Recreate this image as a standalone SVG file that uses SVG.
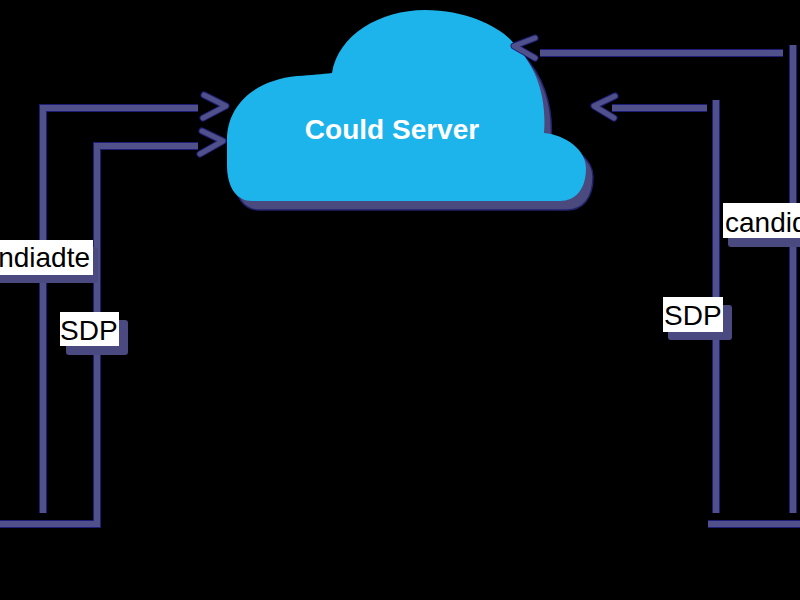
<svg xmlns="http://www.w3.org/2000/svg" width="800" height="600" viewBox="0 0 800 600">
  <style>
    .edge { fill: none; stroke: #1e1e78; stroke-width: 8; stroke-linejoin: miter; }
    .core { fill: none; stroke: #50508a; stroke-width: 6; stroke-linejoin: miter; }
    .headE { fill: none; stroke: #1e1e78; stroke-width: 7; stroke-linecap: round; stroke-linejoin: round; }
    .headC { fill: none; stroke: #50508a; stroke-width: 5; stroke-linecap: round; stroke-linejoin: round; }
    .lbl { font-family: "Liberation Sans", Arial, Helvetica, sans-serif; font-size: 28px; fill: #000000; }
    .box { fill: #ffffff; }
    .shd { fill: #4a4a80; }
    .title { font-family: "Liberation Sans", Arial, Helvetica, sans-serif; font-size: 28px; font-weight: bold; fill: #ffffff; }
  </style>
  <defs>
    <path id="cloudShape" d="M252,201 C237,201 227,188 227,165 L227,140 C227,105 255,80 297,76 C312,75 322,74 332,73 C338,35 380,10 425,10 C470,10 505,30 515,45 C535,65 547,95 544,133 C566,135 586,150 586,168 C586,190 575,201 560,201 Z"/>
  </defs>
  <rect x="0" y="0" width="800" height="600" fill="#000000"/>

  <g id="connectors">
    <path class="edge" d="M43,513 V108 H198"/>
    <path class="core" d="M43,513 V108 H198"/>
    <path class="edge" d="M0,524 H97 V146 H198"/>
    <path class="core" d="M0,524 H97 V146 H198"/>
    <path class="edge" d="M793,513 V45"/>
    <path class="core" d="M793,513 V45"/>
    <path class="edge" d="M716,513 V100"/>
    <path class="core" d="M716,513 V100"/>
    <path class="edge" d="M708,524 H800"/>
    <path class="core" d="M708,524 H800"/>
  </g>

  <g id="cloud-server">
    <use href="#cloudShape" transform="translate(7,9)" fill="#4a4a7e" stroke="#22226e" stroke-width="1.5"/>
    <use href="#cloudShape" fill="#1cb4ea"/>
    <text class="title" x="392" y="139" text-anchor="middle">Could Server</text>
  </g>

  <g id="arrows">
    <path class="edge" d="M783,53 H540"/>
    <path class="core" d="M783,53 H540"/>
    <path class="edge" d="M707,108 H612"/>
    <path class="core" d="M707,108 H612"/>
    <polyline class="headE" points="204,95 226,106 203,118"/>
    <polyline class="headC" points="204,95 226,106 203,118"/>
    <polyline class="headE" points="202,131 223,141 200,154"/>
    <polyline class="headC" points="202,131 223,141 200,154"/>
    <polyline class="headE" points="535,38 514,46 535,58"/>
    <polyline class="headC" points="535,38 514,46 535,58"/>
    <polyline class="headE" points="615,96 594,106 614,118"/>
    <polyline class="headC" points="615,96 594,106 614,118"/>
  </g>

  <g id="label-left-candidate">
    <rect class="shd" x="-40" y="247" width="138" height="36" rx="3"/>
    <rect class="box" x="-40" y="240" width="133" height="35"/>
    <text class="lbl" x="90" y="267" text-anchor="end">candiadte</text>
  </g>
  <g id="label-left-sdp">
    <rect class="shd" x="66" y="320" width="62" height="35" rx="3"/>
    <rect class="box" x="60" y="312" width="59" height="34"/>
    <text class="lbl" x="60" y="340">SDP</text>
  </g>
  <g id="label-right-candidate">
    <rect class="shd" x="728" y="211" width="90" height="36" rx="3"/>
    <rect class="box" x="723" y="203" width="90" height="35"/>
    <text class="lbl" x="725" y="232">candidate</text>
  </g>
  <g id="label-right-sdp">
    <rect class="shd" x="668" y="305" width="64" height="35" rx="3"/>
    <rect class="box" x="663" y="297" width="60" height="35"/>
    <text class="lbl" x="664" y="325">SDP</text>
  </g>
</svg>
